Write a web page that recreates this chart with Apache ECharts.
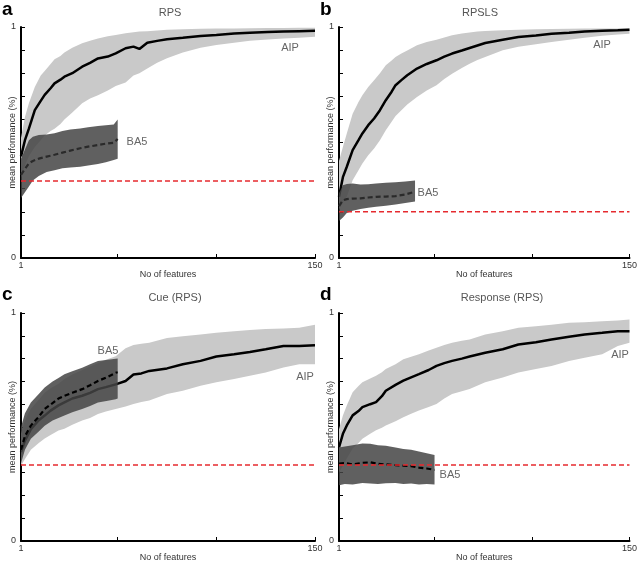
<!DOCTYPE html>
<html><head><meta charset="utf-8">
<script src="https://cdn.jsdelivr.net/npm/echarts@6/dist/echarts.min.js"></script>
<style>html,body{margin:0;padding:0;background:#fff}#c{width:640px;height:563px}</style>
</head><body><div id="c"></div>
<script>
// ---------- Panel a : RPS ----------
var aAipX  = [1,3,5,8,11,13,16,18,21,23,27,32,36,40,45,49,54,58,61,65,70,75,83,92,100,109,117,126,134,142,150];
var aAipM  = [0.44,0.51,0.56,0.64,0.68,0.706,0.735,0.756,0.772,0.785,0.80,0.828,0.845,0.864,0.872,0.886,0.908,0.915,0.905,0.932,0.94,0.947,0.953,0.961,0.965,0.972,0.975,0.978,0.98,0.982,0.984];
var aAipU  = [0.52,0.61,0.67,0.74,0.79,0.81,0.84,0.86,0.875,0.89,0.91,0.93,0.94,0.95,0.96,0.965,0.973,0.977,0.98,0.982,0.985,0.988,0.99,0.992,0.993,0.994,0.995,0.996,0.996,0.997,0.997];
var aAipL  = [0.35,0.40,0.44,0.48,0.51,0.53,0.55,0.56,0.58,0.60,0.63,0.67,0.69,0.705,0.725,0.745,0.76,0.79,0.80,0.82,0.845,0.865,0.89,0.91,0.922,0.932,0.94,0.946,0.95,0.954,0.958];
var aBaX   = [1,3,5,7,10,14,18,22,26,31,35,40,44,48,50];
var aBaU   = [0.43,0.47,0.51,0.525,0.532,0.535,0.54,0.55,0.556,0.561,0.566,0.571,0.575,0.578,0.60];
var aBaL   = [0.26,0.285,0.31,0.335,0.355,0.372,0.38,0.388,0.392,0.395,0.40,0.407,0.415,0.424,0.43];
var aBaM   = [0.36,0.385,0.41,0.42,0.43,0.439,0.447,0.456,0.465,0.475,0.482,0.489,0.495,0.499,0.515];
var aChance = 1/3;

// ---------- Panel b : RPSLS ----------
var bAipX = [1,3,5,8,11,13,16,19,22,25,28,30,33,36,41,46,51,55,59,64,68,72,76,85,93,102,110,119,127,136,144,150];
var bAipM = [0.265,0.35,0.395,0.467,0.51,0.539,0.575,0.604,0.64,0.683,0.72,0.748,0.77,0.791,0.82,0.84,0.856,0.872,0.885,0.898,0.909,0.92,0.931,0.945,0.957,0.963,0.971,0.975,0.981,0.984,0.986,0.988];
var bAipU = [0.42,0.48,0.539,0.625,0.675,0.705,0.74,0.769,0.80,0.834,0.855,0.87,0.885,0.898,0.921,0.935,0.945,0.955,0.964,0.972,0.976,0.98,0.983,0.986,0.988,0.99,0.991,0.992,0.993,0.994,0.994,0.995];
var bAipL = [0.21,0.24,0.265,0.337,0.38,0.409,0.445,0.474,0.51,0.553,0.59,0.615,0.64,0.665,0.697,0.725,0.748,0.775,0.798,0.822,0.841,0.857,0.87,0.899,0.914,0.925,0.935,0.945,0.954,0.962,0.968,0.971];
var bBaX  = [1,3,5,8,12,16,20,25,30,35,40];
var bBaU  = [0.28,0.315,0.32,0.322,0.318,0.319,0.322,0.326,0.328,0.331,0.335];
var bBaL  = [0.16,0.175,0.195,0.205,0.212,0.217,0.222,0.226,0.232,0.238,0.245];
var bBaM  = [0.225,0.25,0.255,0.257,0.258,0.262,0.265,0.266,0.268,0.275,0.287];
var bChance = 0.2;

// ---------- Panel c : Cue (RPS) ----------
var cAipX = [1,3,6,10,13,16,20,23,27,32,36,40,44,49,54,58,62,66,75,83,92,100,109,117,125,134,142,150];
var cAipM = [0.39,0.44,0.49,0.53,0.55,0.572,0.595,0.608,0.625,0.637,0.65,0.666,0.675,0.687,0.702,0.73,0.735,0.746,0.757,0.775,0.79,0.809,0.819,0.829,0.841,0.855,0.855,0.859];
var cAipU = [0.47,0.53,0.58,0.62,0.65,0.67,0.69,0.71,0.73,0.75,0.765,0.78,0.795,0.81,0.845,0.86,0.865,0.87,0.89,0.898,0.906,0.913,0.92,0.925,0.93,0.932,0.935,0.949];
var cAipL = [0.33,0.36,0.40,0.43,0.45,0.465,0.485,0.492,0.51,0.528,0.54,0.557,0.568,0.579,0.59,0.601,0.61,0.616,0.645,0.659,0.681,0.696,0.71,0.725,0.739,0.761,0.775,0.775];
var cBaX  = [1,3,6,10,13,17,20,23,27,32,36,40,45,49,50];
var cBaU  = [0.50,0.56,0.608,0.645,0.673,0.70,0.715,0.731,0.745,0.76,0.775,0.789,0.795,0.799,0.80];
var cBaL  = [0.34,0.40,0.449,0.48,0.506,0.528,0.54,0.55,0.565,0.579,0.592,0.608,0.615,0.622,0.625];
var cBaM  = [0.40,0.46,0.506,0.545,0.579,0.605,0.625,0.637,0.65,0.666,0.683,0.702,0.72,0.738,0.74];
var cChance = 1/3;

// ---------- Panel d : Response (RPS) ----------
var dAipX = [1,3,5,8,11,13,17,20,23,25,30,34,38,42,47,51,55,59,64,68,76,85,93,102,110,119,127,136,144,150];
var dAipM = [0.41,0.47,0.507,0.551,0.57,0.587,0.60,0.609,0.635,0.659,0.685,0.703,0.718,0.732,0.75,0.768,0.78,0.79,0.80,0.809,0.826,0.841,0.862,0.872,0.884,0.896,0.906,0.913,0.92,0.92];
var dAipU = [0.49,0.55,0.594,0.652,0.68,0.696,0.713,0.725,0.74,0.754,0.775,0.797,0.808,0.819,0.835,0.848,0.86,0.87,0.878,0.884,0.906,0.92,0.935,0.942,0.949,0.957,0.959,0.964,0.967,0.971];
var dAipL = [0.30,0.33,0.362,0.406,0.43,0.449,0.47,0.486,0.497,0.507,0.525,0.543,0.558,0.572,0.588,0.601,0.625,0.645,0.657,0.667,0.696,0.717,0.739,0.754,0.768,0.79,0.804,0.819,0.855,0.87];
var dBaX  = [1,4,8,13,17,21,25,30,34,38,42,46,50];
var dBaU  = [0.41,0.415,0.42,0.428,0.426,0.42,0.418,0.41,0.404,0.40,0.392,0.385,0.377];
var dBaL  = [0.245,0.25,0.248,0.254,0.252,0.25,0.253,0.254,0.25,0.252,0.248,0.25,0.248];
var dBaM  = [0.34,0.342,0.336,0.343,0.345,0.338,0.336,0.333,0.33,0.328,0.322,0.318,0.312];
var dChance = 1/3;

var titles = ['RPS','RPSLS','Cue (RPS)','Response (RPS)'];
var letters = ['a','b','c','d'];
var xTicks = [1,50,100,150];
var xTickLabels = [1,150];
var yTickLabels = [0,1];

var panels = [
  {aip:[aAipX,aAipM,aAipU,aAipL], ba:[aBaX,aBaM,aBaU,aBaL], chance:aChance},
  {aip:[bAipX,bAipM,bAipU,bAipL], ba:[bBaX,bBaM,bBaU,bBaL], chance:bChance},
  {aip:[cAipX,cAipM,cAipU,cAipL], ba:[cBaX,cBaM,cBaU,cBaL], chance:cChance},
  {aip:[dAipX,dAipM,dAipU,dAipL], ba:[dBaX,dBaM,dBaU,dBaL], chance:dChance}
];

var gridPos = [
  {left:21, top:27, width:294, height:231},
  {left:339, top:27, width:292, height:231},
  {left:21, top:313, width:294, height:230},
  {left:339, top:313, width:292, height:230}
];

function zip(xs, ys){ var r=[]; for(var i=0;i<xs.length;i++) r.push([xs[i], ys[i]]); return r; }

function band(idx, xs, up, lo, color, opacity, z){
  return {type:'custom', xAxisIndex:idx, yAxisIndex:idx, z:z, silent:true,
    data:[[xs[0], lo[0]]],
    renderItem:function(params, api){
      var pts=[], k;
      for(k=0;k<xs.length;k++) pts.push(api.coord([xs[k], up[k]]));
      for(k=xs.length-1;k>=0;k--) pts.push(api.coord([xs[k], lo[k]]));
      return {type:'polygon', shape:{points:pts}, style:{fill:color, opacity:opacity}};
    }};
}

var FONT = 'Liberation Sans';
var grids=[], xAxes=[], yAxes=[], series=[];
panels.forEach(function(p, i){
  grids.push(gridPos[i]);
  xAxes.push({type:'value', gridIndex:i, min:1, max:150,
    name:'No of features', nameLocation:'middle', nameGap:12, nameMoveOverlap:false,
    nameTextStyle:{fontFamily:FONT, fontSize:9, color:'#333'},
    axisLine:{show:true, onZero:false, lineStyle:{color:'#000', width:2}},
    axisTick:{show:true, inside:true, length:4, customValues:xTicks, lineStyle:{color:'#000', width:1}},
    axisLabel:{customValues:xTickLabels, fontFamily:FONT, fontSize:9, color:'#333', margin:3},
    splitLine:{show:false}});
  yAxes.push({type:'value', gridIndex:i, min:0, max:1, interval:0.1,
    name:'mean performance (%)', nameLocation:'middle', nameGap:4, nameMoveOverlap:false,
    nameTextStyle:{fontFamily:FONT, fontSize:9, color:'#333'},
    axisLine:{show:true, onZero:false, lineStyle:{color:'#000', width:2}},
    axisTick:{show:true, inside:true, length:4, lineStyle:{color:'#000', width:1}},
    axisLabel:{customValues:yTickLabels, fontFamily:FONT, fontSize:9, color:'#333', margin:5},
    splitLine:{show:false}});
  series.push(band(i, p.aip[0], p.aip[2], p.aip[3], '#c9c9c9', 1, 1));
  series.push({type:'line', xAxisIndex:i, yAxisIndex:i, z:2, showSymbol:false, silent:true,
    data:zip(p.aip[0], p.aip[1]), lineStyle:{color:'#000', width:2.5}});
  series.push(band(i, p.ba[0], p.ba[2], p.ba[3], '#444444', 0.85, 3));
  series.push({type:'line', xAxisIndex:i, yAxisIndex:i, z:4, showSymbol:false, silent:true,
    data:zip(p.ba[0], p.ba[1]), lineStyle:{color: i<2 ? '#2a2a2a' : '#000', width:2.2, type:[5,3]}});
  series.push({type:'line', xAxisIndex:i, yAxisIndex:i, z:5, showSymbol:false, silent:true,
    data:[[1,p.chance],[150,p.chance]], lineStyle:{color:'#e62a2f', width:1.6, type:[5,3]}});
});

var graphic = [
  {type:'text', left:2, top:0, style:{text:'a', font:'bold 19px '+FONT, fill:'#000'}},
  {type:'text', left:320, top:0, style:{text:'b', font:'bold 19px '+FONT, fill:'#000'}},
  {type:'text', left:2, top:285, style:{text:'c', font:'bold 19px '+FONT, fill:'#000'}},
  {type:'text', left:320, top:285, style:{text:'d', font:'bold 19px '+FONT, fill:'#000'}},
  {type:'text', x:170, y:13, style:{text:titles[0], font:'11px '+FONT, fill:'#555', align:'center', verticalAlign:'middle'}},
  {type:'text', x:480, y:13, style:{text:titles[1], font:'11px '+FONT, fill:'#555', align:'center', verticalAlign:'middle'}},
  {type:'text', x:175, y:298, style:{text:titles[2], font:'11px '+FONT, fill:'#555', align:'center', verticalAlign:'middle'}},
  {type:'text', x:502, y:298, style:{text:titles[3], font:'11px '+FONT, fill:'#555', align:'center', verticalAlign:'middle'}},
  {type:'text', x:290, y:48, style:{text:'AIP', font:'11px '+FONT, fill:'#666', align:'center', verticalAlign:'middle'}},
  {type:'text', x:137, y:142, style:{text:'BA5', font:'11px '+FONT, fill:'#666', align:'center', verticalAlign:'middle'}},
  {type:'text', x:602, y:45, style:{text:'AIP', font:'11px '+FONT, fill:'#666', align:'center', verticalAlign:'middle'}},
  {type:'text', x:428, y:193, style:{text:'BA5', font:'11px '+FONT, fill:'#666', align:'center', verticalAlign:'middle'}},
  {type:'text', x:108, y:351, style:{text:'BA5', font:'11px '+FONT, fill:'#666', align:'center', verticalAlign:'middle'}},
  {type:'text', x:305, y:377, style:{text:'AIP', font:'11px '+FONT, fill:'#666', align:'center', verticalAlign:'middle'}},
  {type:'text', x:620, y:355, style:{text:'AIP', font:'11px '+FONT, fill:'#666', align:'center', verticalAlign:'middle'}},
  {type:'text', x:450, y:475, style:{text:'BA5', font:'11px '+FONT, fill:'#666', align:'center', verticalAlign:'middle'}}
];

var chart = echarts.init(document.getElementById('c'), null, {renderer:'canvas'});
chart.setOption({animation:false, backgroundColor:'#fff', grid:grids, xAxis:xAxes, yAxis:yAxes, series:series, graphic:graphic});
</script></body></html>
